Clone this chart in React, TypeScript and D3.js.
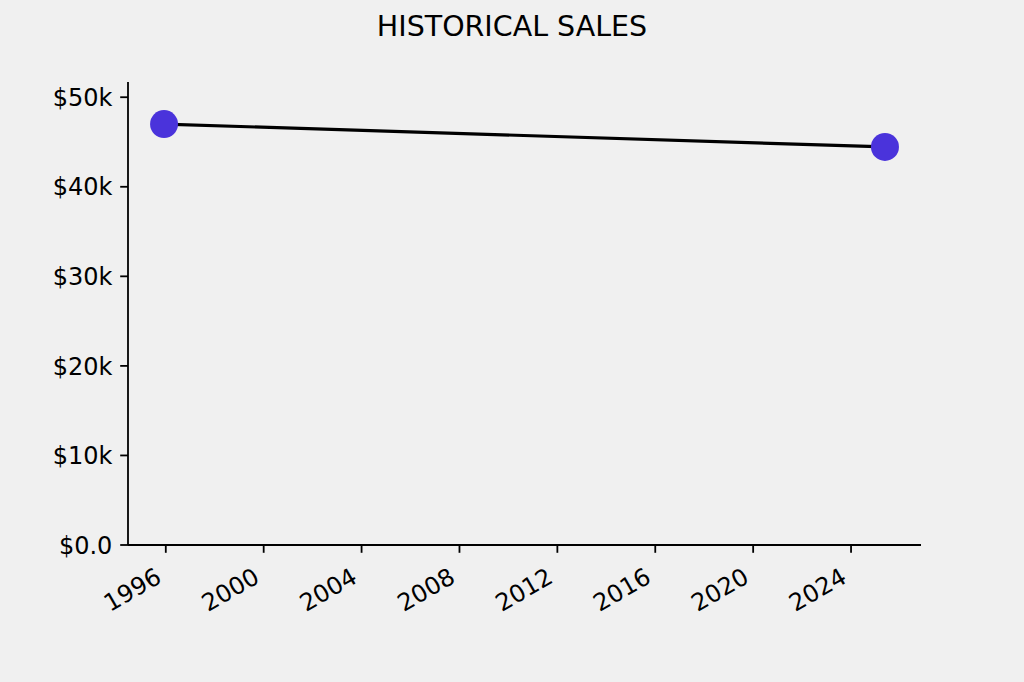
import React, { useEffect, useRef } from 'react';
import * as d3 from 'd3';

// sales points
var saleDates = [new Date(1995, 11, 6), new Date(2025, 4, 21)];
var saleValues = [47000, 44450];

var yTicks = [0, 10000, 20000, 30000, 40000, 50000];
var yTickLabels = ['$0.0', '$10k', '$20k', '$30k', '$40k', '$50k'];
var xTickYears = [1996, 2000, 2004, 2008, 2012, 2016, 2020, 2024];

var W = 1024, H = 682;
var margin = { left: 128, right: 103, top: 82, bottom: 137 };
var font = "'DejaVu Sans', sans-serif";
var dotColor = '#4a33db';

function drawChart(node: SVGSVGElement) {
  var svg = d3.select(node);
  svg.selectAll('*').remove();

  svg.append('rect').attr('width', W).attr('height', H).attr('fill', '#f0f0f0');

  var x0 = margin.left, x1 = W - margin.right;
  var y0 = H - margin.bottom, y1 = margin.top;

  // matplotlib style 5% margins on x
  var ext = d3.extent(saleDates) as [Date, Date];
  var span = ext[1].getTime() - ext[0].getTime();
  var x = d3.scaleTime()
    .domain([new Date(ext[0].getTime() - span * 0.05), new Date(ext[1].getTime() + span * 0.05)])
    .range([x0, x1]);

  var y = d3.scaleLinear()
    .domain([0, (d3.max(saleValues) as number) * 1.1])
    .range([y0, y1]);

  svg.append('text')
    .attr('x', W / 2)
    .attr('y', 35.5)
    .attr('text-anchor', 'middle')
    .style('font-family', font)
    .style('font-size', '28.5px')
    .attr('fill', '#000')
    .text('HISTORICAL SALES');

  var pts = saleDates.map(function (d, i) { return { d: d, v: saleValues[i] }; });

  var line = d3.line<{ d: Date; v: number }>()
    .x(function (p) { return x(p.d); })
    .y(function (p) { return y(p.v); });

  svg.append('path')
    .datum(pts)
    .attr('d', line)
    .attr('fill', 'none')
    .attr('stroke', '#000')
    .attr('stroke-width', 3.2);

  svg.selectAll('circle.dot')
    .data(pts)
    .enter()
    .append('circle')
    .attr('class', 'dot')
    .attr('cx', function (p) { return x(p.d); })
    .attr('cy', function (p) { return y(p.v); })
    .attr('r', 14)
    .attr('fill', dotColor);

  // spines
  svg.append('line').attr('x1', x0).attr('x2', x0).attr('y1', y1).attr('y2', y0)
    .attr('stroke', '#000').attr('stroke-width', 1.8);
  svg.append('line').attr('x1', x0).attr('x2', x1).attr('y1', y0).attr('y2', y0)
    .attr('stroke', '#000').attr('stroke-width', 1.8);

  var tickLen = 7.8;

  // y ticks
  var yg = svg.append('g');
  yTicks.forEach(function (t, i) {
    var yy = y(t);
    yg.append('line').attr('x1', x0 - tickLen).attr('x2', x0).attr('y1', yy).attr('y2', yy)
      .attr('stroke', '#000').attr('stroke-width', 1.8);
    yg.append('text')
      .attr('x', x0 - tickLen - 7.8)
      .attr('y', yy)
      .attr('dy', '0.36em')
      .attr('text-anchor', 'end')
      .style('font-family', font)
      .style('font-size', '24px')
      .attr('fill', '#000')
      .text(yTickLabels[i]);
  });

  // x ticks, rotated labels
  var xg = svg.append('g');
  xTickYears.forEach(function (yr) {
    var xx = x(new Date(yr, 0, 1));
    xg.append('line').attr('x1', xx).attr('x2', xx).attr('y1', y0).attr('y2', y0 + tickLen)
      .attr('stroke', '#000').attr('stroke-width', 1.8);
    var ax = xx - 2.8, ay = y0 + tickLen + 7.8 + 21;
    xg.append('text')
      .attr('transform', 'translate(' + ax + ',' + ay + ') rotate(-30)')
      .attr('text-anchor', 'end')
      .style('font-family', font)
      .style('font-size', '24px')
      .attr('fill', '#000')
      .text(String(yr));
  });
}

export default function App() {
  var ref = useRef<SVGSVGElement>(null);
  useEffect(function () {
    if (ref.current) drawChart(ref.current);
  }, []);
  return (
    <svg ref={ref} width={W} height={H}
      style={{ position: 'absolute', left: 0, top: 0, display: 'block' }} />
  );
}
